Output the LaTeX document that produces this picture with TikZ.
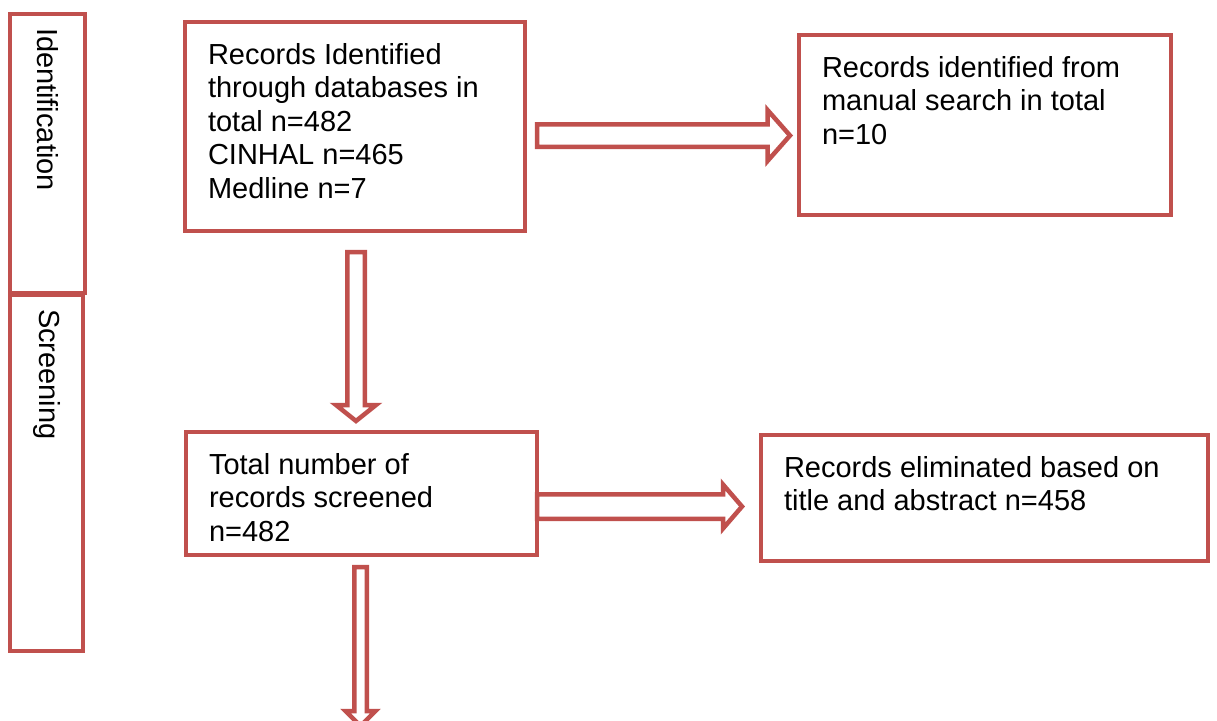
\documentclass[tikz,border=0pt]{standalone}
\usepackage{fontspec}
\setmainfont{Liberation Sans}
\usetikzlibrary{positioning, calc}
\definecolor{accent}{RGB}{192,80,77}

\newcommand{\hollowright}[5]{%
  \draw[hollow] let \p1=(#1), \p2=(#2) in
    (\x1,\y1+#3) -- (\x2-#5,\y1+#3) -- (\x2-#5,\y1+#4) -- (\x2,\y1)
    -- (\x2-#5,\y1-#4) -- (\x2-#5,\y1-#3) -- (\x1,\y1-#3) -- cycle;}
\newcommand{\hollowdown}[5]{%
  \draw[hollow] let \p1=(#1), \p2=(#2) in
    (\x1-#3,\y1) -- (\x1-#3,\y2+#5) -- (\x1-#4,\y2+#5) -- (\x1,\y2)
    -- (\x1+#4,\y2+#5) -- (\x1+#3,\y2+#5) -- (\x1+#3,\y1) -- cycle;}

\begin{document}
\begin{tikzpicture}[
    x=1pt, y=-1pt,
    stage/.style={rectangle, draw=accent, line width=4.5pt, outer sep=0pt, inner xsep=23pt, inner ysep=21pt, anchor=north west, font=\fontsize{29}{33.5}\selectfont},
    phase/.style={rectangle, draw=accent, line width=4.5pt, outer sep=0pt, inner xsep=14pt, inner ysep=0pt, rotate=-90, align=left, font=\fontsize{29}{33.5}\selectfont},
    hollow/.style={draw=accent, line width=4.5pt, fill=white, line join=miter}
]
\useasboundingbox (0,0) rectangle (1217,720);

\node[phase, minimum width=279pt, minimum height=75pt, text width=251pt] (idphase) at (47.5,153.5) {Identification};
\node[phase, minimum width=356pt, minimum height=73pt, text width=328pt] (scrphase) at (46.5,473) {Screening};

\node[stage] (ida) at (185,22) {\parbox[t][167pt][t]{294pt}{Records Identified\\through databases in\\total n=482\\CINHAL n=465\\Medline n=7}};
\node[stage, below right=13pt and 274pt of ida.north east] (manual) {\parbox[t][138pt][t]{326pt}{Records identified from\\manual search in total\\n=10}};
\node[stage, below right=201pt and 1pt of ida.south west] (screened) {\parbox[t][81pt][t]{305pt}{Total number of\\records screened\\n=482}};
\node[stage, below right=3pt and 224pt of screened.north east] (elim) {\parbox[t][84pt][t]{401pt}{Records eliminated based on\\title and abstract n=458}};

\coordinate (cont) at (360.5,726);

\hollowright{$(ida.east)+(12pt,-9pt)$}{$(manual.west)+(-9pt,0pt)$}{11.25pt}{25.5pt}{22.5pt}
\hollowdown{$(ida.south)+(1pt,-21pt)$}{$(screened.north)+(0pt,11pt)$}{8.75pt}{20pt}{16pt}
\hollowright{$(screened.east)+(0pt,-13pt)$}{$(elim.west)+(-19pt,0pt)$}{12.25pt}{22pt}{19pt}
\hollowdown{$(screened.south)+(-1pt,-12pt)$}{cont}{6.25pt}{15pt}{15pt}

\end{tikzpicture}
\end{document}
